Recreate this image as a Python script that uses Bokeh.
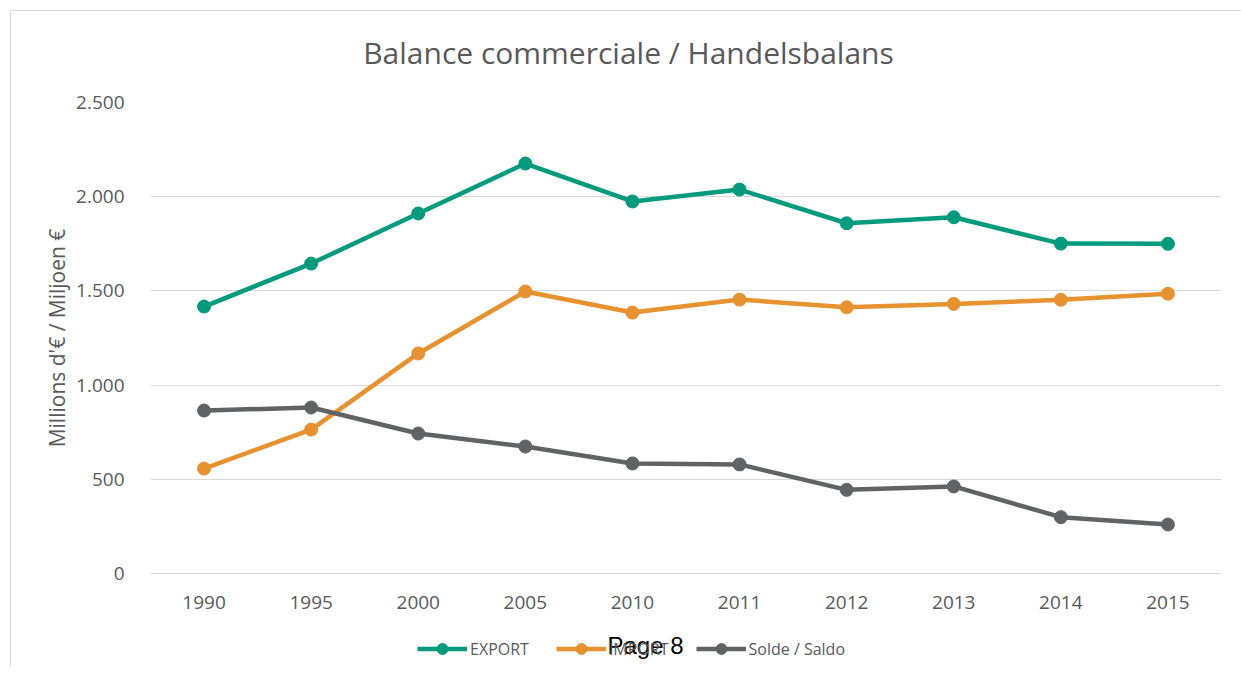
from bokeh.plotting import figure
from bokeh.models import Range1d, FactorRange, Legend, LegendItem, Label
from bokeh.layouts import column
from bokeh.embed import file_html
from bokeh.resources import INLINE

years = ["1990", "1995", "2000", "2005", "2010", "2011", "2012", "2013", "2014", "2015"]
export_vals = [1417, 1645, 1911, 2176, 1975, 2038, 1859, 1891, 1751, 1750]
import_vals = [557, 764, 1168, 1497, 1385, 1454, 1413, 1431, 1453, 1485]
solde_vals = [865, 881, 743, 674, 584, 579, 444, 462, 299, 260]
series_names = ["EXPORT", "IMPORT", "Solde / Saldo"]
y_ticks = [0, 500, 1000, 1500, 2000, 2500]
y_tick_labels = ["0", "500", "1.000", "1.500", "2.000", "2.500"]

colors = ["#009B7D", "#E8912F", "#616264"]
text_color = "#595959"
font = "Open Sans"
W = 1231
NAN = float("nan")

# --- title strip ---
p0 = figure(width=W, height=72, x_range=Range1d(0, W), y_range=Range1d(0, 72),
            x_axis_location=None, y_axis_location=None, min_border=0,
            output_backend="svg", toolbar_location=None)
p0.grid.grid_line_color = None
p0.outline_line_color = None
p0.styles = {"border-left": "1px solid #d9d9d9", "border-top": "1px solid #d9d9d9"}
p0.add_layout(Label(
    x=478, y=31, x_units="screen", y_units="screen",
    text="Balance commerciale / Handelsbalans",
    text_font=font, text_font_size="30px", text_color=text_color,
    text_align="center", text_baseline="middle",
))

# --- main chart ---
p = figure(
    x_range=FactorRange(*years),
    y_range=Range1d(0, 2500),
    frame_width=1070, frame_height=471,
    min_border_left=139, min_border_right=22,
    min_border_top=20, min_border_bottom=50,
    output_backend="svg", toolbar_location=None,
    background_fill_color="white", border_fill_color="white",
)
p.styles = {"border-left": "1px solid #d9d9d9"}
p.outline_line_color = None

p.yaxis.ticker = y_ticks
p.yaxis.major_label_overrides = dict(zip(y_ticks, y_tick_labels))
p.yaxis.axis_line_color = None
p.yaxis.major_tick_line_color = None
p.yaxis.minor_tick_line_color = None
p.yaxis.major_label_text_font = font
p.yaxis.major_label_text_font_size = "19px"
p.yaxis.major_label_text_color = text_color
p.yaxis.major_label_standoff = 20
p.yaxis.axis_label = "Millions d'€ / Miljoen €"
p.yaxis.axis_label_text_font = font
p.yaxis.axis_label_text_font_size = "21px"
p.yaxis.axis_label_text_font_style = "normal"
p.yaxis.axis_label_text_color = text_color
p.yaxis.axis_label_standoff = 2

p.xaxis.axis_line_color = "#d9d9d9"
p.xaxis.major_tick_line_color = None
p.xaxis.minor_tick_line_color = None
p.xaxis.major_label_text_font = font
p.xaxis.major_label_text_font_size = "19px"
p.xaxis.major_label_text_color = text_color
p.xaxis.major_label_standoff = 16

p.xgrid.grid_line_color = None
p.ygrid.grid_line_color = "#d9d9d9"

for vals, col in zip([export_vals, import_vals, solde_vals], colors):
    p.line(years, vals, line_color=col, line_width=4.5, line_join="round")
    p.scatter(years, vals, marker="circle", size=13, fill_color=col, line_color=col)

# --- legend strip ---
p2 = figure(width=W, height=44, x_range=Range1d(0, W), y_range=Range1d(0, 44),
            x_axis_location=None, y_axis_location=None, min_border=0,
            output_backend="svg", toolbar_location=None)
p2.grid.grid_line_color = None
p2.outline_line_color = None
p2.styles = {"border-left": "1px solid #d9d9d9"}

items = []
for name, col in zip(series_names, colors):
    l = p2.line(x=[NAN], y=[NAN], line_color=col, line_width=4.5)
    s = p2.scatter(x=[NAN], y=[NAN], marker="circle", size=11, fill_color=col, line_color=col)
    items.append(LegendItem(label=name, renderers=[l, s]))

legend = Legend(
    items=items, orientation="horizontal", location=(267, 5),
    glyph_width=50, glyph_height=27, label_height=27, label_standoff=3, spacing=27,
    padding=0, margin=0, border_line_color=None, background_fill_alpha=0,
    label_text_font=font, label_text_font_size="16px", label_text_color=text_color,
)
p2.add_layout(legend, "center")

p2.add_layout(Label(
    x=457, y=22, x_units="screen", y_units="screen",
    text="Page 8", text_font="Liberation Sans", text_font_size="24px",
    text_color="black", text_align="left", text_baseline="middle",
))

layout = column(p0, p, p2, spacing=0, margin=(10, 0, 0, 10))
open("out.html", "w").write(file_html(layout, INLINE))
